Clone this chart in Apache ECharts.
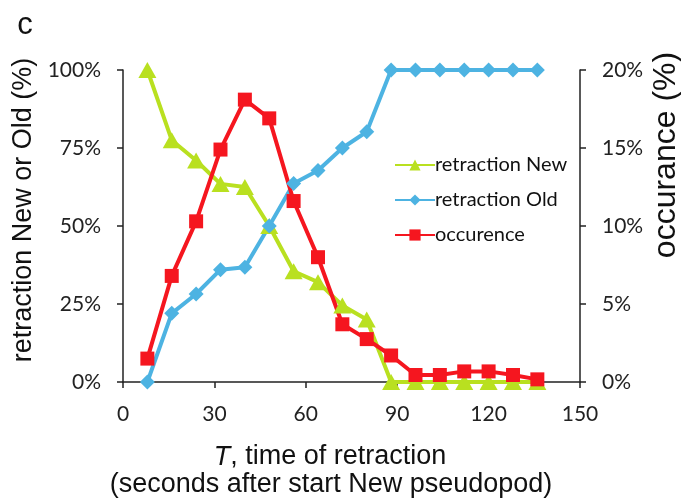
<!DOCTYPE html>
<html>
<head>
<meta charset="utf-8">
<script src="https://cdn.jsdelivr.net/npm/echarts@6/dist/echarts.min.js"></script>
<style>
  html, body { margin: 0; padding: 0; background: #fff; }
  #chart { width: 681px; height: 502px; }
</style>
</head>
<body>
<div id="chart"></div>
<script>
// time of retraction (s)
const times = [8, 16, 24, 32, 40, 48, 56, 64, 72, 80, 88, 96, 104, 112, 120, 128, 136]
// left axis, %
const retractionNew = [100, 77.5, 71, 63.5, 62.5, 50, 35.5, 32, 24.5, 20, 0, 0, 0, 0, 0, 0, 0]
const retractionOld = [0, 22, 28.2, 36, 36.8, 50, 63.6, 67.8, 75, 80.2, 100, 100, 100, 100, 100, 100, 100]
// right axis, %
const occurence = [1.5, 6.8, 10.3, 14.9, 18.1, 16.9, 11.6, 8.0, 3.7, 2.75, 1.7, 0.45, 0.45, 0.68, 0.68, 0.45, 0.17]

const leftTicks = [0, 25, 50, 75, 100]
const rightTicks = [0, 5, 10, 15, 20]

const panelLabel = 'c'
const xTitle1 = '{i|T}, time of retraction'
const xTitle2 = '(seconds after start New pseudopod)'
const leftTitle = 'retraction New or Old (%)'
const rightTitle = 'occurance (%)'

const tickFont = 'Lato, "Open Sans", sans-serif'
const titleFont = '"Liberation Sans", Arial, sans-serif'

const pairs = arr => times.map((t, i) => [t, arr[i]])

const chart = echarts.init(document.getElementById('chart'))

const axisLine = { show: true, lineStyle: { color: '#222', width: 1.5 } }
const axisTick = { show: true, inside: false, length: 6, lineStyle: { color: '#222', width: 1.5 } }
const tickLabel = { margin: 22, fontFamily: tickFont, fontSize: 21, color: '#222' }

// titles are drawn as graphic text so they can sit where the figure has them
const titleText = (text, x, y, size, rot) => ({
  type: 'text',
  x: x,
  y: y,
  rotation: rot || 0,
  silent: true,
  style: {
    text: text,
    fontFamily: titleFont,
    fontSize: size,
    fill: '#111',
    align: 'center',
    verticalAlign: 'middle',
    rich: { i: { fontFamily: titleFont, fontSize: size, fontStyle: 'italic', fill: '#111' } }
  }
})

const option = {
  animation: false,
  backgroundColor: '#fff',
  grid: { left: 123, right: 101, top: 70, bottom: 120 },
  graphic: [
    titleText(panelLabel, 25, 25, 31),
    titleText(xTitle1, 330, 457, 27),
    titleText(xTitle2, 331, 485, 27),
    titleText(leftTitle, 24, 210, 27, Math.PI / 2),
    titleText(rightTitle, 666, 155, 32, Math.PI / 2)
  ],
  legend: {
    orient: 'vertical',
    left: 389,
    top: 150,
    itemWidth: 40,
    itemHeight: 14,
    itemGap: 15,
    data: ['retraction New', 'retraction Old', 'occurence'],
    textStyle: { fontFamily: tickFont, fontSize: 20, color: '#111', padding: [0, 0, 0, -5] }
  },
  xAxis: {
    type: 'value',
    min: 0,
    max: 150,
    interval: 30,
    axisLine: axisLine,
    axisTick: axisTick,
    splitLine: { show: false },
    axisLabel: tickLabel
  },
  yAxis: [
    {
      type: 'value',
      min: 0,
      max: 100,
      interval: 25,
      axisLine: axisLine,
      axisTick: axisTick,
      splitLine: { show: false },
      axisLabel: Object.assign({}, tickLabel, {
        formatter: v => leftTicks.includes(v) ? v + '%' : ''
      })
    },
    {
      type: 'value',
      position: 'right',
      min: 0,
      max: 20,
      interval: 5,
      axisLine: axisLine,
      axisTick: axisTick,
      splitLine: { show: false },
      axisLabel: Object.assign({}, tickLabel, {
        formatter: v => rightTicks.includes(v) ? v + '%' : ''
      })
    }
  ],
  series: [
    {
      name: 'retraction New',
      type: 'line',
      yAxisIndex: 0,
      data: pairs(retractionNew),
      symbol: 'triangle',
      symbolSize: [18, 16],
      lineStyle: { color: '#b9e020', width: 4 },
      itemStyle: { color: '#b9e020' }
    },
    {
      name: 'retraction Old',
      type: 'line',
      yAxisIndex: 0,
      data: pairs(retractionOld),
      symbol: 'diamond',
      symbolSize: 15,
      lineStyle: { color: '#4db3e2', width: 4 },
      itemStyle: { color: '#4db3e2' }
    },
    {
      name: 'occurence',
      type: 'line',
      yAxisIndex: 1,
      data: pairs(occurence),
      symbol: 'rect',
      symbolSize: 14,
      lineStyle: { color: '#f5161f', width: 4 },
      itemStyle: { color: '#f5161f' }
    }
  ]
}

chart.setOption(option)
</script>
</body>
</html>
